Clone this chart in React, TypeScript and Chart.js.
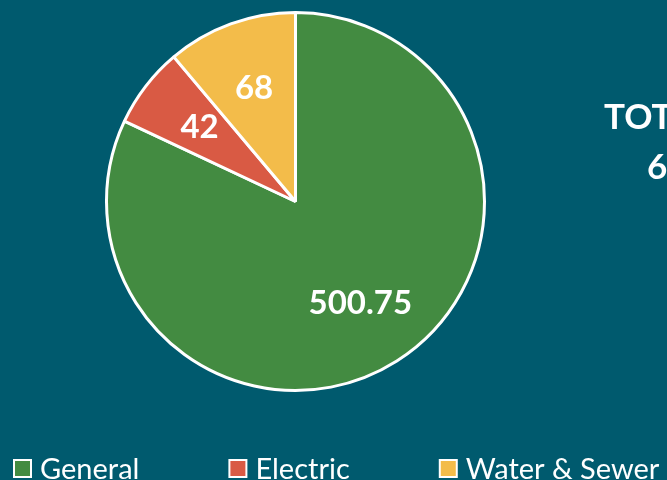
import React, { useEffect, useRef } from "react";
import { Chart, registerables } from "chart.js";

Chart.register(...registerables);

const categories = ["General", "Electric", "Water & Sewer"];
const values = [500.75, 42, 68];
const valueLabels = ["500.75", "42", "68"];
const sliceColors = ["#438B41", "#D95A44", "#F3BC4A"];
const totalTitle = "TOTAL";
const totalValue = "610.75";
const BG = "#005A6E";

const bgPlugin = {
  id: "bg",
  beforeDraw(chart: any) {
    const { ctx, width, height } = chart;
    ctx.save();
    ctx.fillStyle = BG;
    ctx.fillRect(0, 0, width, height);
    ctx.restore();
  },
};

const labelPlugin = {
  id: "sliceLabels",
  afterDatasetsDraw(chart: any) {
    const { ctx } = chart;
    const meta = chart.getDatasetMeta(0);
    ctx.save();
    ctx.fillStyle = "#FFFFFF";
    ctx.font = "bold 33px Lato";
    ctx.textAlign = "center";
    ctx.textBaseline = "middle";
    meta.data.forEach((arc: any, i: number) => {
      const { x, y, startAngle, endAngle, outerRadius } = arc.getProps(
        ["x", "y", "startAngle", "endAngle", "outerRadius"],
        true
      );
      const mid = (startAngle + endAngle) / 2;
      const r = outerRadius * 0.64;
      ctx.fillText(valueLabels[i], x + Math.cos(mid) * r, y + Math.sin(mid) * r);
    });
    ctx.restore();
  },
};

const legendPlugin = {
  id: "customLegend",
  afterDraw(chart: any) {
    const { ctx, height } = chart;
    ctx.save();
    ctx.font = "29px Lato";
    ctx.textBaseline = "alphabetic";
    ctx.textAlign = "left";
    const box = 19;
    const baseline = height - 1;
    let x = 13;
    categories.forEach((label, i) => {
      const top = baseline - 20;
      ctx.fillStyle = "#FFFFFF";
      ctx.fillRect(x, top, box, box);
      ctx.fillStyle = sliceColors[i];
      ctx.fillRect(x + 2, top + 2, box - 4, box - 4);
      ctx.fillStyle = "#FFFFFF";
      ctx.fillText(label, x + box + 8, baseline);
      x += box + 8 + ctx.measureText(label).width + 89;
    });
    ctx.restore();
  },
};

const totalPlugin = {
  id: "totalText",
  afterDraw(chart: any) {
    const { ctx } = chart;
    ctx.save();
    ctx.fillStyle = "#FFFFFF";
    ctx.font = "bold 35px Lato";
    ctx.textAlign = "left";
    ctx.textBaseline = "alphabetic";
    ctx.fillText(totalTitle, 604, 129);
    ctx.fillText(totalValue, 647, 179);
    ctx.restore();
  },
};

export default function App() {
  const ref = useRef<HTMLCanvasElement | null>(null);
  useEffect(() => {
    if (!ref.current) return;
    const chart = new Chart(ref.current, {
      type: "pie",
      data: {
        labels: categories,
        datasets: [
          {
            data: values,
            backgroundColor: sliceColors,
            borderColor: "#FFFFFF",
            borderWidth: 3,
          },
        ],
      },
      options: {
        responsive: false,
        animation: false,
        layout: { padding: { top: 11, bottom: 88, left: 105, right: 181 } },
        plugins: {
          legend: { display: false },
          tooltip: { enabled: false },
        },
      },
      plugins: [bgPlugin, labelPlugin, legendPlugin, totalPlugin],
    });
    return () => chart.destroy();
  }, []);
  return (
    <div style={{ position: "absolute", left: 0, top: 0, width: 667, height: 480, background: BG }}>
      <canvas ref={ref} width={667} height={480} style={{ display: "block" }} />
    </div>
  );
}
